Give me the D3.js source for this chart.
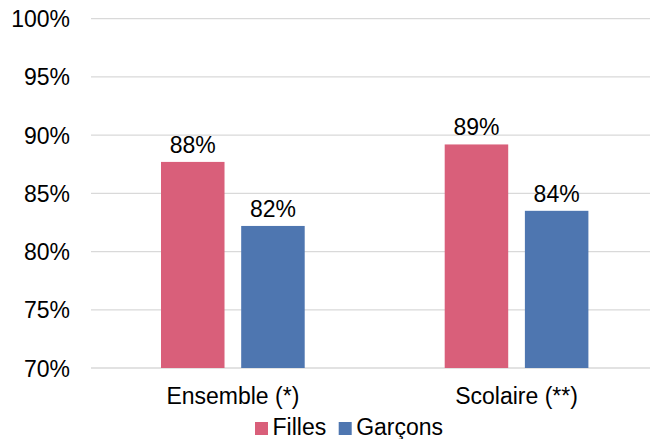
<!DOCTYPE html>
<html><head><meta charset="utf-8">
<script src="https://cdn.jsdelivr.net/npm/d3@7"></script>
<style>body{margin:0;background:#fff}svg{display:block;font-family:"Liberation Sans",Arial,sans-serif}</style>
</head><body><svg id="c" width="650" height="439"></svg>
<script>
const categories = ["Ensemble (*)", "Scolaire (**)"];
const seriesNames = ["Filles", "Garçons"];
const filles = [87.7, 89.2];
const garcons = [82.2, 83.5];
const fillesLabels = ["88%", "89%"];
const garconsLabels = ["82%", "84%"];
const yTicks = [70, 75, 80, 85, 90, 95, 100];
const colors = ["#D95F7A", "#4E76B0"];

const svg = d3.select("#c");
const y = d3.scaleLinear().domain([70, 100]).range([368, 18.7]);
const x0 = d3.scaleBand().domain(categories).range([91, 658.4]).padding(0);
const groupW = 143.7;
const x1 = d3.scaleBand().domain(seriesNames)
  .range([(x0.step() - groupW) / 2, (x0.step() + groupW) / 2]).paddingInner(0.208);

// gridlines
svg.append("g").selectAll("line").data(yTicks).join("line")
  .attr("x1", 91).attr("x2", 650)
  .attr("y1", d => y(d)).attr("y2", d => y(d))
  .attr("stroke", "#d9d9d9").attr("stroke-width", 1.3);

// y axis labels
const yAxis = d3.axisLeft(y).tickValues(yTicks).tickSize(0).tickPadding(0).tickFormat(d => d + "%");
const ya = svg.append("g").attr("transform", "translate(70,0)").call(yAxis);
ya.select(".domain").remove();
ya.selectAll("text").attr("font-size", 23).attr("fill", "#000").attr("font-family", "Liberation Sans, Arial, sans-serif").attr("dy", "0.35em");

const data = categories.map((c, i) => ({
  cat: c,
  vals: [
    {s: seriesNames[0], v: filles[i], l: fillesLabels[i], c: colors[0]},
    {s: seriesNames[1], v: garcons[i], l: garconsLabels[i], c: colors[1]}
  ]
}));

const g = svg.append("g").selectAll("g").data(data).join("g")
  .attr("transform", d => `translate(${x0(d.cat)},0)`);
g.selectAll("rect").data(d => d.vals).join("rect")
  .attr("x", d => x1(d.s)).attr("width", x1.bandwidth())
  .attr("y", d => y(d.v)).attr("height", d => y(70) - y(d.v))
  .attr("fill", d => d.c);
g.selectAll("text").data(d => d.vals).join("text")
  .attr("x", d => x1(d.s) + x1.bandwidth() / 2)
  .attr("y", d => y(d.v) - 9)
  .attr("text-anchor", "middle").attr("font-size", 23).attr("fill", "#000")
  .text(d => d.l);

// x axis labels
const xAxis = d3.axisBottom(x0).tickSize(0).tickPadding(0);
const xa = svg.append("g").attr("transform", "translate(0,0)").call(xAxis);
xa.select(".domain").remove();
xa.selectAll("text").attr("y", 404).attr("dy", 0).attr("font-size", 23).attr("fill", "#000")
  .attr("font-family", "Liberation Sans, Arial, sans-serif");

// legend
const legendItems = [
  {name: seriesNames[0], color: colors[0], x: 255},
  {name: seriesNames[1], color: colors[1], x: 338.7}
];
const lg = svg.append("g").selectAll("g").data(legendItems).join("g");
lg.append("rect").attr("x", d => d.x).attr("y", 422).attr("width", 13).attr("height", 13).attr("fill", d => d.color);
lg.append("text").attr("x", d => d.x + 17.5).attr("y", 435).attr("font-size", 23).attr("fill", "#000").text(d => d.name);
</script></body></html>
